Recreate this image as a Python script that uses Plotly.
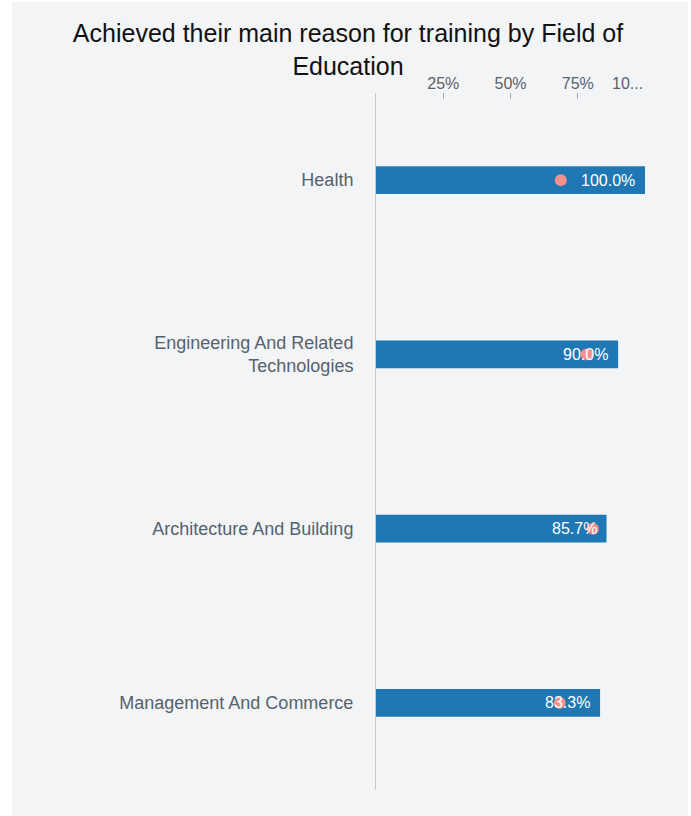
import plotly.graph_objects as go

# Share of learners who achieved their main reason for training, by field
fields = [
    "Health",
    "Engineering And Related<br>Technologies",
    "Architecture And Building",
    "Management And Commerce",
]
achieved = [1.000, 0.900, 0.857, 0.833]
# Comparison marker for each field
benchmark = [0.687, 0.783, 0.806, 0.683]

tick_vals = [0.25, 0.50, 0.75, 1.00]
tick_text = ["25%", "50%", "75%", ""]
last_tick_text = "10..."

BAR_COLOR = "#1f77b4"
DOT_COLOR = "#f4908e"
PANEL_BG = "#f3f4f6"
TEXT_GREY = "#56626d"
FONT = "Liberation Sans, Arial, sans-serif"

fig = go.Figure()

fig.add_trace(go.Bar(
    x=achieved,
    y=fields,
    orientation="h",
    marker=dict(color=BAR_COLOR, line=dict(width=0)),
    width=0.16,
    hoverinfo="x+y",
    showlegend=False,
))

fig.add_trace(go.Scatter(
    x=benchmark,
    y=fields,
    mode="markers",
    marker=dict(color=DOT_COLOR, size=12, line=dict(width=0)),
    showlegend=False,
))

# Value labels inside the end of each bar
for f, v in zip(fields, achieved):
    fig.add_annotation(
        x=v, y=f, xref="x", yref="y",
        text=f"{v * 100:.1f}%",
        xanchor="right", yanchor="middle",
        xshift=-8, showarrow=False,
        font=dict(family=FONT, size=16, color="white"),
    )

# Truncated label of the last tick, kept inside the plot's right edge
fig.add_annotation(
    x=tick_vals[-1], y=1, xref="x", yref="paper",
    text=last_tick_text, xanchor="right", yanchor="bottom",
    yshift=-1, showarrow=False,
    font=dict(family=FONT, size=16, color=TEXT_GREY),
)

# Light panel behind the chart (leaves a thin white strip at the left and top)
L, R, T, B = 376, 46, 93, 26
W, H = 691, 816
pw, ph = W - L - R, H - T - B
fig.add_shape(
    type="rect", xref="paper", yref="paper", layer="below",
    x0=(12 - L) / pw, x1=(688 - L) / pw,
    y0=-B / ph, y1=1 + (T - 2) / ph,
    fillcolor=PANEL_BG, line=dict(width=0),
)

fig.update_layout(
    width=W, height=H,
    margin=dict(l=L, r=R, t=T, b=B, pad=0),
    paper_bgcolor="white",
    plot_bgcolor="rgba(0,0,0,0)",
    font=dict(family=FONT, color=TEXT_GREY),
    title=dict(
        text="Achieved their main reason for training by Field of<br>Education",
        x=348 / W, xanchor="center",
        y=1 - 42 / H, yanchor="top",
        font=dict(family=FONT, size=25, color="#111111"),
    ),
    bargap=0.84,
    xaxis=dict(
        side="top",
        range=[0, 1],
        tickvals=tick_vals,
        ticktext=tick_text,
        ticks="inside",
        ticklen=6,
        tickcolor="#a7adb3",
        tickfont=dict(size=16, color=TEXT_GREY),
        showgrid=False,
        zeroline=False,
        showline=False,
        fixedrange=True,
    ),
    yaxis=dict(
        categoryorder="array",
        categoryarray=fields[::-1],
        showline=True,
        linecolor="#c8c8c8",
        linewidth=1,
        ticks="",
        ticklabelstandoff=18,
        tickfont=dict(size=18, color=TEXT_GREY),
        showgrid=False,
        zeroline=False,
        fixedrange=True,
    ),
)

fig.write_html("out.html")
